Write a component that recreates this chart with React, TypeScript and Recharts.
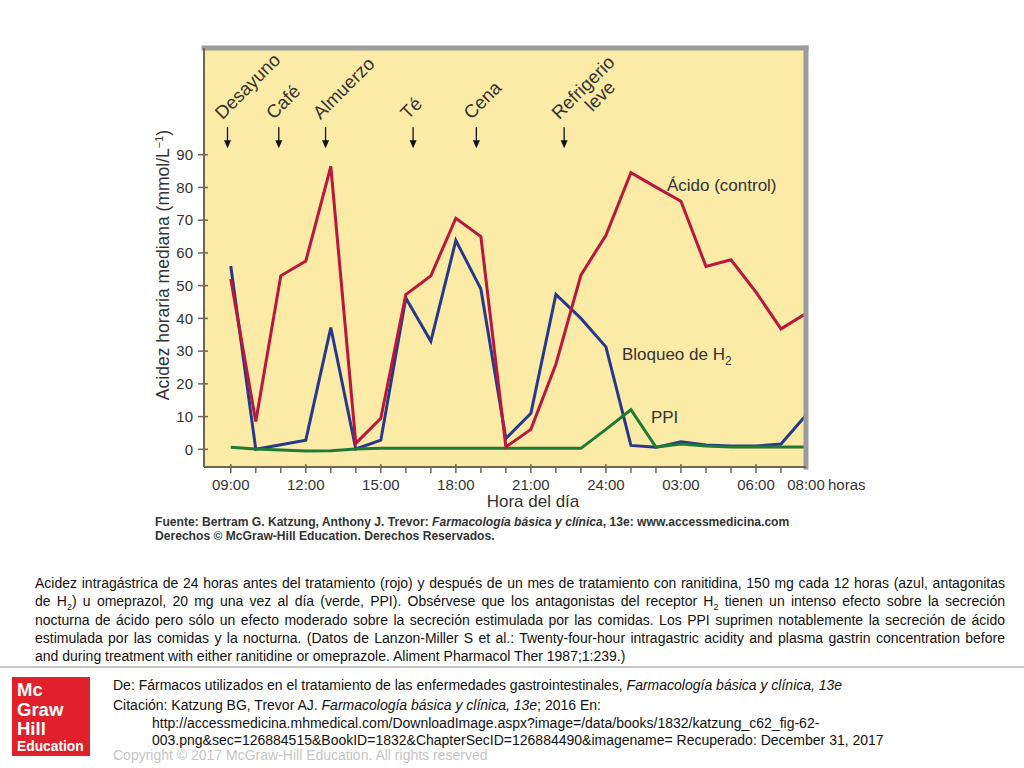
import React from 'react';
import { LineChart, Line, XAxis, YAxis, CartesianGrid, ReferenceLine, ReferenceDot } from 'recharts';

// ---- data (hours after 09:00) ----
const hours = [0, 1, 2, 3, 4, 5, 6, 7, 8, 9, 10, 11, 12, 13, 14, 15, 16, 17, 18, 19, 20, 21, 22, 23];
const acidControl = [52, 8.5, 53, 57.5, 86.4, 1.8, 9.5, 47.3, 53, 70.6, 65, 0.7, 6.1, 26, 53.2, 65.4, 84.5, 80.1, 75.8, 55.9, 57.9, 48, 36.8, 41.5];
const h2Block = [56, 0, 1.4, 2.8, 37.2, 0.1, 2.8, 46.2, 33, 63.8, 49, 3.3, 11, 47.3, 40, 31.3, 1.2, 0.6, 2.3, 1.3, 1.0, 1.0, 1.6, 10.4];
const ppiSeries = [0.6, 0.1, -0.2, -0.5, -0.4, 0.1, 0.3, 0.3, 0.3, 0.3, 0.3, 0.3, 0.3, 0.3, 0.3, 6.1, 12.1, 0.7, 1.6, 1.0, 0.7, 0.7, 0.7, 0.7];

const majorTickHours = [0, 3, 6, 9, 12, 15, 18, 21, 23];
const majorTickLabels = ['09:00', '12:00', '15:00', '18:00', '21:00', '24:00', '03:00', '06:00', '08:00'];
const yTicks = [0, 10, 20, 30, 40, 50, 60, 70, 80, 90];

const meals = [['Desayuno'], ['Café'], ['Almuerzo'], ['Té'], ['Cena'], ['Refrigerio', 'leve']];
const mealHours = [-0.13, 1.92, 3.79, 7.29, 9.82, 13.33];
const MEAL_ARROW_TIP = 92;

const seriesLabelText = ['Ácido (control)', 'Bloqueo de H', 'PPI'];
const seriesLabelHour = [17.44, 15.64, 16.8];
const seriesLabelValue = [78.9, 27.3, 8.0];

const X_MIN = -1.07;
const X_MAX = 23;
const Y_MIN = -5.4;
const Y_MAX = 122.6;

const data = hours.map((h, i) => ({ h, acid: acidControl[i], h2: h2Block[i], ppi: ppiSeries[i] }));

const FONT = 'Arial, "Liberation Sans", Helvetica, sans-serif';
const AXIS = '#6d6650';
const TXT = '#333';
const RED = '#b8173e';
const BLUE = '#27398c';
const GREEN = '#1f7a35';
const FRAME = '#9c9c9c';

const XTick = (props: any) => {
  const { x, y, payload } = props;
  const h = payload.value;
  const idx = majorTickHours.indexOf(h);
  const axisY = y - 6;
  const isLast = h === X_MAX;
  return (
    <g>
      {!isLast && (
        <line x1={x} x2={x} y1={axisY} y2={axisY - (idx >= 0 ? 9 : 5)} stroke={AXIS} strokeWidth={1.5} />
      )}
      {idx >= 0 && (
        <text x={x} y={y} dy="0.71em" textAnchor="middle" fontSize={15} fill={TXT} fontFamily={FONT}>
          {majorTickLabels[idx]}
        </text>
      )}
      {isLast && (
        <text x={x + 22} y={y} dy="0.71em" textAnchor="start" fontSize={15} fill={TXT} fontFamily={FONT}>
          horas
        </text>
      )}
    </g>
  );
};

const YTick = (props: any) => {
  const { x, y, payload } = props;
  return (
    <g>
      <line x1={x + 5} x2={x + 15} y1={y} y2={y} stroke={AXIS} strokeWidth={1.5} />
      <text x={x} y={y} dy="0.35em" textAnchor="end" fontSize={15} fill={TXT} fontFamily={FONT}>
        {payload.value}
      </text>
    </g>
  );
};

const MealMarker = (props: any) => {
  const { cx, cy, lines } = props;
  const top = cy - 21;
  return (
    <g>
      <line x1={cx} x2={cx} y1={top} y2={cy - 7} stroke="#111" strokeWidth={1.3} />
      <path d={`M${cx - 3.5},${cy - 8} L${cx + 3.5},${cy - 8} L${cx},${cy} Z`} fill="#111" />
      <text transform={`translate(${cx - 5},${top - 7}) rotate(-45)`} fontSize={18.5} fill={TXT} fontFamily={FONT}>
        {lines.map((l: string, i: number) => (
          <tspan key={i} x={i === 0 ? 0 : 29} y={i * 18}>
            {l}
          </tspan>
        ))}
      </text>
    </g>
  );
};

const SeriesLabel = (props: any) => {
  const { cx, cy, idx } = props;
  return (
    <text x={cx} y={cy} fontSize={17} fill={TXT} fontFamily={FONT}>
      {seriesLabelText[idx]}
      {idx === 1 && (
        <tspan dy={5} fontSize={12}>
          2
        </tspan>
      )}
    </text>
  );
};

const YTitle = () => {
  const cx = 163;
  const cy = 265;
  return (
    <text transform={`translate(${cx},${cy}) rotate(-90)`} textAnchor="middle" fontSize={17.5} fill={TXT} fontFamily={FONT} dy="0.35em">
      Acidez horaria mediana (mmol/L
      <tspan dy={-6} fontSize={11}>−1</tspan>
      <tspan dy={6}>)</tspan>
    </text>
  );
};

const XTitle = () => (
  <text x={533} y={507} textAnchor="middle" fontSize={17} fill={TXT} fontFamily={FONT}>
    Hora del día
  </text>
);

const captionLines: React.ReactNode[] = [
  'Acidez intragástrica de 24 horas antes del tratamiento (rojo) y después de un mes de tratamiento con ranitidina, 150 mg cada 12 horas (azul, antagonitas',
  <>de H<sub style={{ fontSize: 9 }}>2</sub>) u omeprazol, 20 mg una vez al día (verde, PPI). Obsérvese que los antagonistas del receptor H<sub style={{ fontSize: 9 }}>2</sub> tienen un intenso efecto sobre la secreción</>,
  'nocturna de ácido pero sólo un efecto moderado sobre la secreción estimulada por las comidas. Los PPI suprimen notablemente la secreción de ácido',
  'estimulada por las comidas y la nocturna. (Datos de Lanzon-Miller S et al.: Twenty-four-hour intragastric acidity and plasma gastrin concentration before',
  'and during treatment with either ranitidine or omeprazole. Aliment Pharmacol Ther 1987;1:239.)',
];

export default function App() {
  return (
    <div style={{ position: 'absolute', left: 0, top: 0, width: 1024, height: 768, background: '#fff', overflow: 'hidden', fontFamily: FONT }}>
      <div style={{ position: 'absolute', left: 0, top: 0 }}>
        <LineChart width={1024} height={560} data={data} margin={{ top: 48, right: 218, bottom: 63, left: 144 }}>
          <CartesianGrid fill="#fcebA6" horizontal={false} vertical={false} stroke="none" />
          <XAxis
            dataKey="h"
            type="number"
            domain={[X_MIN, X_MAX]}
            ticks={hours}
            interval={0}
            allowDataOverflow
            height={30}
            tickLine={false}
            tickMargin={6}
            axisLine={{ stroke: AXIS, strokeWidth: 2 }}
            tick={<XTick />}
            label={<XTitle />}
          />
          <YAxis
            type="number"
            domain={[Y_MIN, Y_MAX]}
            ticks={yTicks}
            interval={0}
            allowDataOverflow
            width={60}
            tickLine={false}
            tickMargin={5}
            axisLine={{ stroke: AXIS, strokeWidth: 2 }}
            tick={<YTick />}
            label={<YTitle />}
          />
          <Line type="linear" dataKey="h2" stroke={BLUE} strokeWidth={3} dot={false} isAnimationActive={false} strokeLinejoin="miter" />
          <Line type="linear" dataKey="ppi" stroke={GREEN} strokeWidth={3} dot={false} isAnimationActive={false} strokeLinejoin="miter" />
          <Line type="linear" dataKey="acid" stroke={RED} strokeWidth={3} dot={false} isAnimationActive={false} strokeLinejoin="miter" />
          <ReferenceLine y={Y_MAX} stroke={FRAME} strokeWidth={5} strokeLinecap="square" />
          <ReferenceLine x={X_MAX} stroke={FRAME} strokeWidth={5} strokeLinecap="square" />
          {meals.map((m, i) => (
            <ReferenceDot
              key={'meal' + i}
              x={mealHours[i]}
              y={MEAL_ARROW_TIP}
              r={0}
              ifOverflow="visible"
              shape={(p: any) => <MealMarker {...p} lines={m} />}
            />
          ))}
          {seriesLabelText.map((t, i) => (
            <ReferenceDot
              key={'lab' + i}
              x={seriesLabelHour[i]}
              y={seriesLabelValue[i]}
              r={0}
              ifOverflow="visible"
              shape={(p: any) => <SeriesLabel {...p} idx={i} />}
            />
          ))}
        </LineChart>
      </div>

      <div style={{ position: 'absolute', left: 155, top: 515, fontSize: 12.1, fontWeight: 'bold', color: '#333', lineHeight: '14px', whiteSpace: 'nowrap' }}>
        <div>Fuente: Bertram G. Katzung, Anthony J. Trevor: <i>Farmacología básica y clínica</i>, 13e: www.accessmedicina.com</div>
        <div>Derechos © McGraw-Hill Education. Derechos Reservados.</div>
      </div>

      {captionLines.map((l, i) => (
        <div
          key={i}
          style={{
            position: 'absolute',
            left: 35,
            width: 970,
            top: 574 + i * 18.3,
            fontSize: 14,
            lineHeight: '18px',
            color: '#111',
            textAlign: 'justify',
            textAlignLast: i < captionLines.length - 1 ? 'justify' : 'left',
            whiteSpace: 'nowrap',
          } as React.CSSProperties}
        >
          {l}
        </div>
      ))}

      <div style={{ position: 'absolute', left: 0, top: 666, width: 1024, height: 2, background: '#c8c8c8' }} />

      <svg style={{ position: 'absolute', left: 12, top: 677 }} width={78} height={79}>
        <rect x={0} y={0} width={78} height={79} fill="#e0202a" />
        <text x={5} y={19} fill="#fff" fontSize={18.5} fontWeight="bold" fontFamily={FONT}>Mc</text>
        <text x={5} y={38.5} fill="#fff" fontSize={18.5} fontWeight="bold" fontFamily={FONT}>Graw</text>
        <text x={5} y={58} fill="#fff" fontSize={18.5} fontWeight="bold" fontFamily={FONT}>Hill</text>
        <text x={5} y={74} fill="#fff" fontSize={13.8} fontWeight="bold" fontFamily={FONT}>Education</text>
      </svg>

      <div style={{ position: 'absolute', left: 113, top: 676, fontSize: 14, lineHeight: '18px', color: '#111', whiteSpace: 'nowrap' }}>
        De: Fármacos utilizados en el tratamiento de las enfermedades gastrointestinales, <i>Farmacología básica y clínica, 13e</i>
      </div>
      <div style={{ position: 'absolute', left: 113, top: 696, fontSize: 14, lineHeight: '18px', color: '#111', whiteSpace: 'nowrap' }}>
        Citación: Katzung BG, Trevor AJ. <i>Farmacología básica y clínica, 13e</i>; 2016 En:
      </div>
      <div style={{ position: 'absolute', left: 152, top: 714, fontSize: 14, lineHeight: '18px', color: '#111', whiteSpace: 'nowrap' }}>
        http://accessmedicina.mhmedical.com/DownloadImage.aspx?image=/data/books/1832/katzung_c62_fig-62-
      </div>
      <div style={{ position: 'absolute', left: 152, top: 731, fontSize: 14, lineHeight: '18px', color: '#111', whiteSpace: 'nowrap' }}>
        003.png&amp;sec=126884515&amp;BookID=1832&amp;ChapterSecID=126884490&amp;imagename= Recuperado: December 31, 2017
      </div>
      <div style={{ position: 'absolute', left: 113, top: 746, fontSize: 14, lineHeight: '18px', color: '#c4c4c4', whiteSpace: 'nowrap' }}>
        Copyright © 2017 McGraw-Hill Education. All rights reserved
      </div>
    </div>
  );
}
